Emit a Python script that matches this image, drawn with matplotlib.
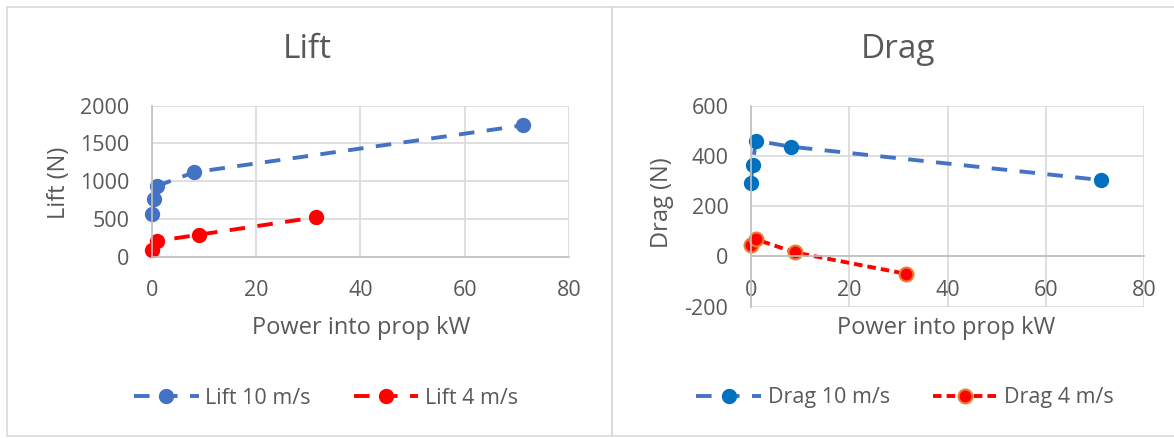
import numpy as np
import matplotlib
matplotlib.use('Agg')
import matplotlib.pyplot as plt
from matplotlib.patches import Rectangle

plt.rcParams['font.family'] = ['Open Sans', 'DejaVu Sans']
plt.rcParams['axes.unicode_minus'] = False

# Measured prop power (kW) against lift / drag at two airspeeds
power_10 = [0, 0.45, 1.0, 8.1, 71.2]
power_4 = [0, 1.1, 9.0, 31.5]
lift_10 = [561, 760, 936, 1118, 1740]
lift_4 = [85, 208, 291, 522]
drag_10 = [294, 363, 461, 437, 304]
drag_4 = [46, 68, 16, -69]

txt = '#595959'
grid_c = '#D9D9D9'
axis_c = '#BFBFBF'
fs = 15.5      # tick / legend text
fs_lab = 17    # axis titles
fs_title = 24

fig = plt.figure(figsize=(11.74, 4.38), dpi=100)

# chart frames
fig.patches.append(Rectangle((7/1174, 2/438), 605/1174, 429/438, transform=fig.transFigure,
                             fill=False, edgecolor=grid_c, lw=1.2))
fig.patches.append(Rectangle((612/1174, 2/438), 570/1174, 429/438, transform=fig.transFigure,
                             fill=False, edgecolor=grid_c, lw=1.2))


def style(ax, ylim, yticks):
    ax.set_xlim(0, 80)
    ax.set_ylim(*ylim)
    ax.set_xticks([0, 20, 40, 60, 80])
    ax.set_yticks(yticks)
    ax.grid(True, color=grid_c, lw=1.2)
    ax.set_axisbelow(True)
    for s in ['top', 'right']:
        ax.spines[s].set_visible(False)
    ax.spines['left'].set_color(axis_c)
    ax.spines['bottom'].set_color(axis_c)
    ax.spines['left'].set_linewidth(1.2)
    ax.spines['bottom'].set_linewidth(1.2)
    ax.spines['bottom'].set_position(('data', 0))
    ax.tick_params(length=0, labelsize=fs, labelcolor=txt)
    ax.tick_params(axis='y', pad=16)
    ax.tick_params(axis='x', pad=17)


line_kw = dict(lw=2.8, marker='o', ms=10, clip_on=False)

# Lift
ax1 = fig.add_axes([151.7/1174, 1-256.7/438, (569-151.7)/1174, (256.7-105.7)/438])
style(ax1, (0, 2000), [0, 500, 1000, 1500, 2000])
l1, = ax1.plot(power_10, lift_10, color='#4472C4', dashes=(4, 3.2),
               mfc='#4472C4', mec='#4472C4', label='Lift 10 m/s', **line_kw)
l2, = ax1.plot(power_4, lift_4, color='#FF0000', dashes=(4, 3.2),
               mfc='#FF0000', mec='#FF0000', label='Lift 4 m/s', **line_kw)

# Drag
ax2 = fig.add_axes([750.7/1174, 1-306.7/438, (1144.3-750.7)/1174, (306.7-105.7)/438])
style(ax2, (-200, 600), [-200, 0, 200, 400, 600])
d1, = ax2.plot(power_10, drag_10, color='#4472C4', dashes=(4, 3.2),
               mfc='#0070C0', mec='#0070C0', label='Drag 10 m/s', **line_kw)
d2, = ax2.plot(power_4, drag_4, color='#FF0000', dashes=(2.2, 1.3),
               mfc='#FF0000', mec='#ED7D31', mew=1.5, label='Drag 4 m/s', **line_kw)

fig.text(307/1174, 1-50/438, 'Lift', ha='center', va='center', fontsize=fs_title, color=txt)
fig.text(898/1174, 1-50/438, 'Drag', ha='center', va='center', fontsize=fs_title, color=txt)
fig.text(361/1174, 1-328/438, 'Power into prop kW', ha='center', va='center', fontsize=fs_lab, color=txt)
fig.text(946/1174, 1-328/438, 'Power into prop kW', ha='center', va='center', fontsize=fs_lab, color=txt)
fig.text(59/1174, 1-183/438, 'Lift (N)', ha='center', va='center', rotation=90, fontsize=fs_lab, color=txt)
fig.text(662/1174, 1-203/438, 'Drag (N)', ha='center', va='center', rotation=90, fontsize=fs_lab, color=txt)

for hs, cx in [((l1, l2), 326), ((d1, d2), 905)]:
    fig.legend(handles=list(hs), loc='center', bbox_to_anchor=(cx/1174, 1-398/438),
               ncol=2, frameon=False, fontsize=fs, handlelength=3, handletextpad=0.3,
               columnspacing=2.0, labelcolor=txt)

fig.savefig('out.png', dpi=100)
